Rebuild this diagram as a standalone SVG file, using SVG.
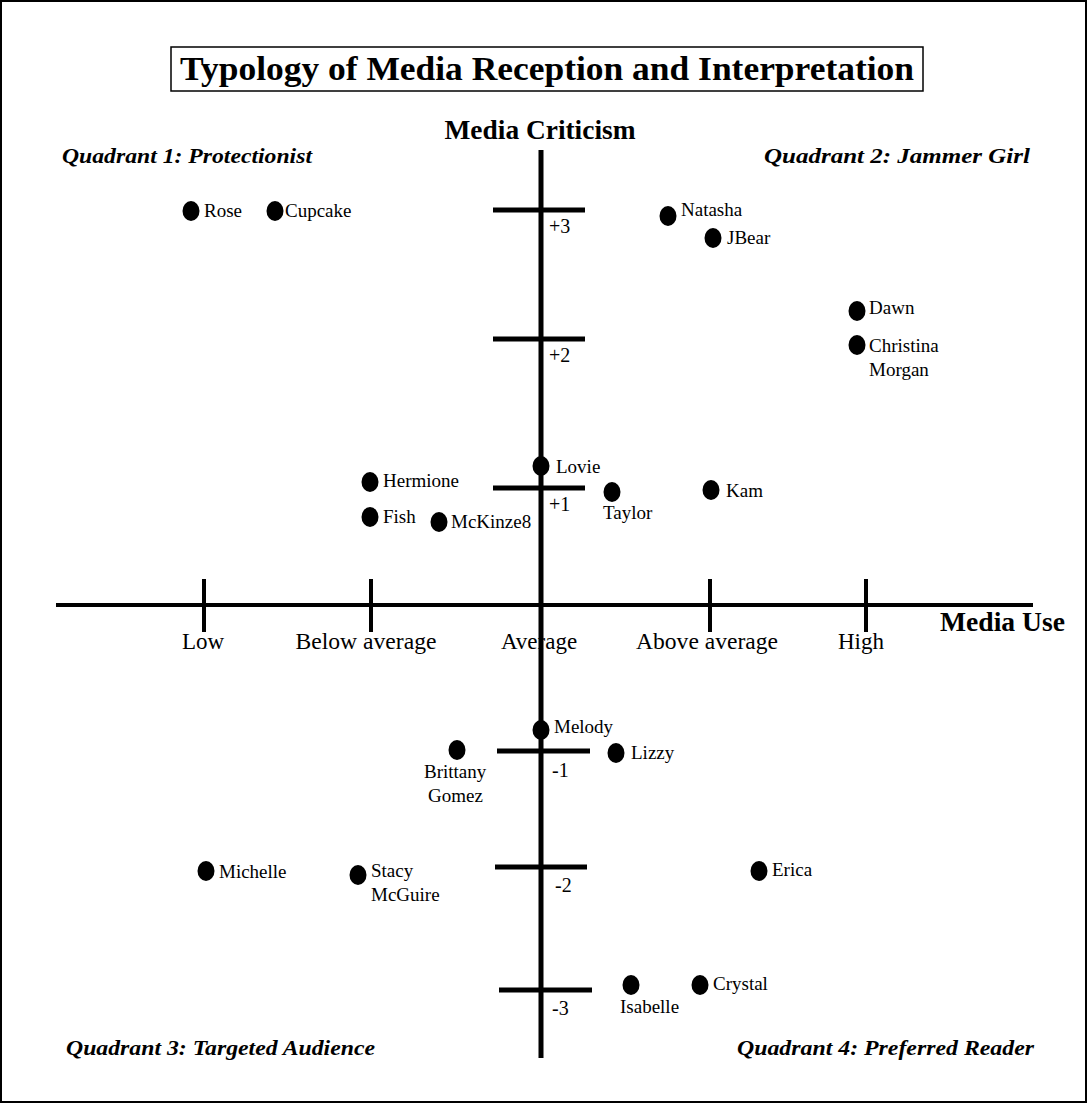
<svg xmlns="http://www.w3.org/2000/svg" width="1087" height="1103" viewBox="0 0 1087 1103">
<style>
text{font-family:"Liberation Serif","Times New Roman",serif;fill:#000}
.t{font-size:33px;font-weight:bold}
.ax{font-size:27px;font-weight:bold}
.q{font-size:21px;font-weight:bold;font-style:italic}
.lab{font-size:23px}
.tk{font-size:20px}
.n{font-size:19px}
.dot{fill:#000}
.axis{stroke:#000;fill:none}
</style>
<rect x="1" y="1" width="1085" height="1101" fill="#fff" stroke="#000" stroke-width="2"/>
<g id="title">
<rect x="171" y="47" width="752" height="44" fill="#fff" stroke="#000" stroke-width="1.5"/>
<text class="t" x="547" y="80" text-anchor="middle" textLength="734" lengthAdjust="spacingAndGlyphs">Typology of Media Reception and Interpretation</text>
</g>
<g id="quadrants">
<text class="q" x="62" y="163" textLength="250" lengthAdjust="spacingAndGlyphs">Quadrant 1: Protectionist</text>
<text class="q" x="764" y="163" textLength="266" lengthAdjust="spacingAndGlyphs">Quadrant 2: Jammer Girl</text>
<text class="q" x="66" y="1055" textLength="309" lengthAdjust="spacingAndGlyphs">Quadrant 3: Targeted Audience</text>
<text class="q" x="737" y="1055" textLength="297" lengthAdjust="spacingAndGlyphs">Quadrant 4: Preferred Reader</text>
</g>
<g id="axes">
<line class="axis" x1="541" y1="150" x2="541" y2="1058" stroke-width="5"/>
<line class="axis" x1="56" y1="605" x2="1033" y2="605" stroke-width="4"/>
<g stroke="#000" stroke-width="4">
<line x1="204" y1="579" x2="204" y2="632"/>
<line x1="371" y1="579" x2="371" y2="632"/>
<line x1="710" y1="579" x2="710" y2="632"/>
<line x1="866" y1="579" x2="866" y2="632"/>
</g>
<g stroke="#000" stroke-width="5">
<line x1="493" y1="210" x2="585" y2="210"/>
<line x1="493" y1="339" x2="585" y2="339"/>
<line x1="493" y1="488" x2="585" y2="488"/>
<line x1="497" y1="751" x2="590" y2="751"/>
<line x1="495" y1="867" x2="587" y2="867"/>
<line x1="499" y1="990" x2="592" y2="990"/>
</g>
<text class="ax" x="540" y="139" text-anchor="middle" textLength="191" lengthAdjust="spacingAndGlyphs">Media Criticism</text>
<text class="ax" x="940" y="631" textLength="125" lengthAdjust="spacingAndGlyphs">Media Use</text>
<g class="lab" text-anchor="middle">
<text x="203" y="649">Low</text>
<text x="366" y="649" textLength="141" lengthAdjust="spacingAndGlyphs">Below average</text>
<text x="539" y="649">Average</text>
<text x="707" y="649" textLength="142" lengthAdjust="spacingAndGlyphs">Above average</text>
<text x="861" y="649">High</text>
</g>
<g class="tk">
<text x="549" y="233">+3</text>
<text x="549" y="362">+2</text>
<text x="549" y="511">+1</text>
<text x="552" y="777">-1</text>
<text x="555" y="892">-2</text>
<text x="552" y="1015">-3</text>
</g>
</g>
<g id="points" class="n">
<g id="rose"><ellipse class="dot" cx="191" cy="211" rx="8.5" ry="10"/><text x="204" y="217">Rose</text></g>
<g id="cupcake"><ellipse class="dot" cx="275" cy="211" rx="8.5" ry="10"/><text x="285" y="217">Cupcake</text></g>
<g id="natasha"><ellipse class="dot" cx="668" cy="216" rx="8.5" ry="10"/><text x="681" y="216">Natasha</text></g>
<g id="jbear"><ellipse class="dot" cx="713" cy="238" rx="8.5" ry="10"/><text x="727" y="244">JBear</text></g>
<g id="dawn"><ellipse class="dot" cx="857" cy="311" rx="8.5" ry="10"/><text x="869" y="314">Dawn</text></g>
<g id="christina"><ellipse class="dot" cx="857" cy="345" rx="8.5" ry="10"/><text x="869" y="352">Christina</text><text x="869" y="376">Morgan</text></g>
<g id="lovie"><ellipse class="dot" cx="541" cy="466" rx="8.5" ry="10"/><text x="556" y="473">Lovie</text></g>
<g id="hermione"><ellipse class="dot" cx="370" cy="482" rx="8.5" ry="10"/><text x="383" y="487">Hermione</text></g>
<g id="fish"><ellipse class="dot" cx="370" cy="517" rx="8.5" ry="10"/><text x="383" y="523">Fish</text></g>
<g id="mckinze8"><ellipse class="dot" cx="439" cy="522" rx="8.5" ry="10"/><text x="451" y="528">McKinze8</text></g>
<g id="taylor"><ellipse class="dot" cx="612" cy="492" rx="8.5" ry="10"/><text x="603" y="519">Taylor</text></g>
<g id="kam"><ellipse class="dot" cx="711" cy="490" rx="8.5" ry="10"/><text x="726" y="497">Kam</text></g>
<g id="melody"><ellipse class="dot" cx="541" cy="730" rx="8.5" ry="10"/><text x="554" y="733">Melody</text></g>
<g id="brittany"><ellipse class="dot" cx="457" cy="750" rx="8.5" ry="10"/><text x="424" y="778">Brittany</text><text x="428" y="802">Gomez</text></g>
<g id="lizzy"><ellipse class="dot" cx="616" cy="753" rx="8.5" ry="10"/><text x="631" y="759">Lizzy</text></g>
<g id="michelle"><ellipse class="dot" cx="206" cy="871" rx="8.5" ry="10"/><text x="219" y="878">Michelle</text></g>
<g id="stacy"><ellipse class="dot" cx="358" cy="875" rx="8.5" ry="10"/><text x="371" y="877">Stacy</text><text x="371" y="901">McGuire</text></g>
<g id="erica"><ellipse class="dot" cx="759" cy="871" rx="8.5" ry="10"/><text x="772" y="876">Erica</text></g>
<g id="isabelle"><ellipse class="dot" cx="631" cy="985" rx="8.5" ry="10"/><text x="620" y="1013">Isabelle</text></g>
<g id="crystal"><ellipse class="dot" cx="700" cy="985" rx="8.5" ry="10"/><text x="713" y="990">Crystal</text></g>
</g>
</svg>
